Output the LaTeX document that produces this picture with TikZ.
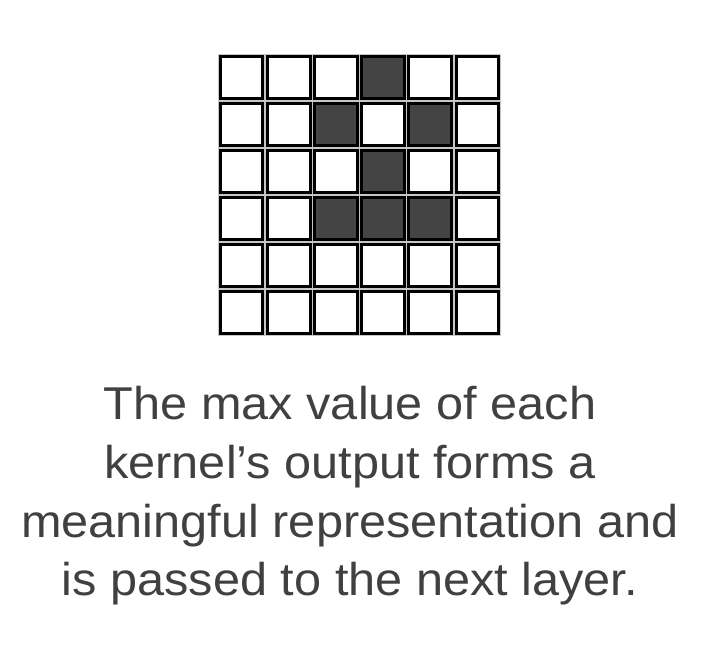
\documentclass[tikz,border=0pt]{standalone}
\usepackage{fontspec}
\setmainfont{Liberation Sans}
\usepackage{xcolor}
\usepackage{tikz}

\definecolor{textgray}{HTML}{404040}
\definecolor{cellgray}{HTML}{444444}

\begin{document}
\begin{tikzpicture}[x=1pt,y=-1pt]
            \useasboundingbox (0,0) rectangle (726,656);

            \fill[gray!45] (218,54) rectangle (501,336);
            \foreach \i in {0,...,5}
                \foreach \j in {0,...,5}
                    \draw[line width=3, fill=white] ({218+47.17*\i+2.25},{54+47*\j+2.25}) rectangle ({218+47.17*(\i+1)-2.25},{54+47*(\j+1)-2.25});

            \foreach \i/\j in {3/0, 2/1, 4/1, 3/2, 2/3, 3/3, 4/3}
                \draw[line width=3, fill=cellgray] ({218+47.17*\i+2.25},{54+47*\j+2.25}) rectangle ({218+47.17*(\i+1)-2.25},{54+47*(\j+1)-2.25});

            \tikzset{caption/.style={anchor=base, text=textgray, inner sep=0, xscale=1.058, font=\fontsize{46}{58.7}\selectfont}}
            \node[caption] (line1) at (350,419) {The max value of each};
            \node[caption] (line2) at (350,478) {kernel’s output forms a};
            \node[caption] (line3) at (350,537) {meaningful representation and};
            \node[caption] (line4) at (350,595) {is passed to the next layer.};
         \end{tikzpicture}
\end{document}
